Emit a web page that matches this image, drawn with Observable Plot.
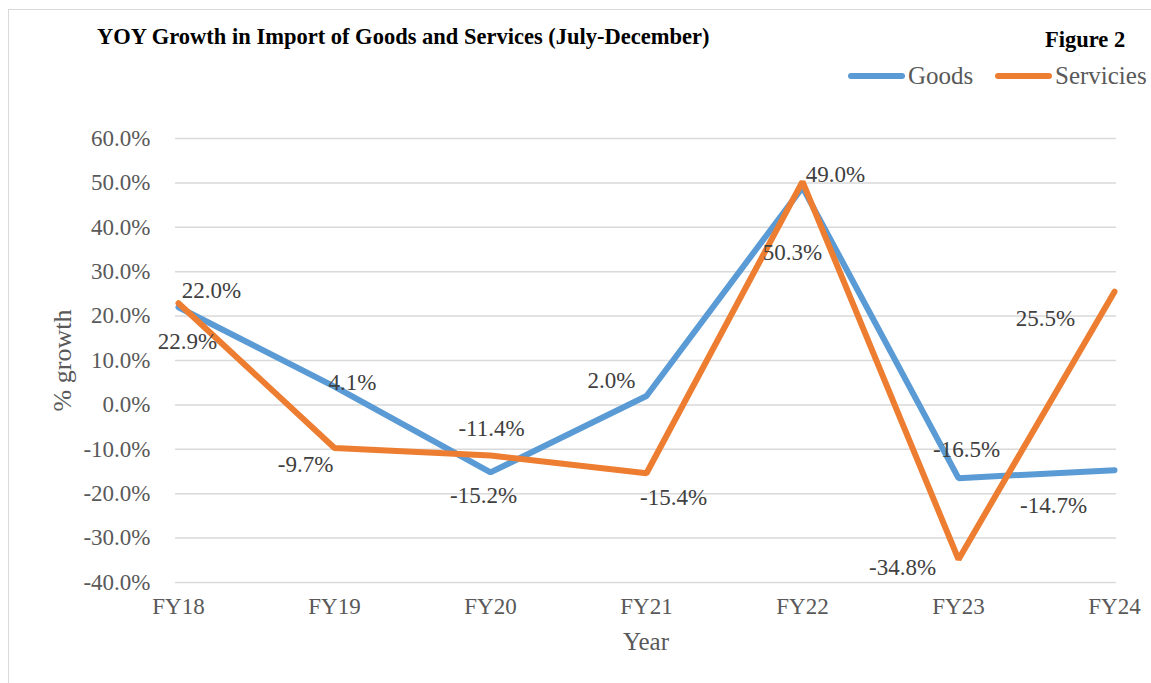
<!DOCTYPE html>
<html>
<head>
<meta charset="utf-8">
<script src="https://cdn.jsdelivr.net/npm/d3@7"></script>
<script src="https://cdn.jsdelivr.net/npm/@observablehq/plot@0.6"></script>
<style>
  html, body { margin: 0; padding: 0; background: #fff; }
  #wrap { position: relative; width: 1151px; height: 683px; overflow: hidden; font-family: "Liberation Serif", "DejaVu Serif", serif; }
  #frame { position: absolute; left: 8px; top: 9px; width: 1200px; height: 700px; border: 1.5px solid #d9d9d9; box-sizing: border-box; }
  .abs { position: absolute; white-space: nowrap; }
  #title { left: 97px; top: 24px; font-weight: bold; font-size: 22.5px; color: #000; }
  #fig { left: 1045px; top: 27px; font-weight: bold; font-size: 22.5px; color: #000; }
  .leg { top: 62px; font-size: 25px; color: #595959; display: flex; align-items: center; }
  .sw { display: inline-block; width: 57px; height: 6px; border-radius: 3px; margin-right: 3px; }
  #plot { position: absolute; left: 0; top: 0; }
  #plot svg text { font-family: "Liberation Serif", "DejaVu Serif", serif; }
</style>
</head>
<body>
<div id="wrap">
  <div id="frame"></div>
  <div id="plot"></div>
  <div class="abs" id="title">YOY Growth in Import of Goods and Services (July-December)</div>
  <div class="abs" id="fig">Figure 2</div>
  <div class="abs leg" style="left:848px"><span class="sw" style="background:#5b9bd5"></span>Goods</div>
  <div class="abs leg" style="left:995px"><span class="sw" style="background:#ed7d31"></span>Servicies</div>
</div>
<script>
const years = ["FY18", "FY19", "FY20", "FY21", "FY22", "FY23", "FY24"];
const goods = [22.0, 4.1, -15.2, 2.0, 49.0, -16.5, -14.7];
const services = [22.9, -9.7, -11.4, -15.4, 50.3, -34.8, 25.5];
const yTicks = [-40, -30, -20, -10, 0, 10, 20, 30, 40, 50, 60];

// label placement offsets (dx, dy) in pixels
const goodsLabelDx = [33, 18, -7, -35, 33, 8, -61];
const goodsLabelDy = [-17, -4, 23, -15, -13, -29, 35];
const servicesLabelDx = [9, -29, 1, 27, -10, -56, -69];
const servicesLabelDy = [38, 17, -27, 24, 71, 8, 27];

const rows = [];
years.forEach((y, i) => {
  rows.push({year: y, series: "Goods", value: goods[i], dx: goodsLabelDx[i], dy: goodsLabelDy[i]});
});
years.forEach((y, i) => {
  rows.push({year: y, series: "Servicies", value: services[i], dx: servicesLabelDx[i], dy: servicesLabelDy[i]});
});
const colors = {Goods: "#5b9bd5", Servicies: "#ed7d31"};
const serif = "Liberation Serif";

const labelMarks = rows.map(r => Plot.text([r], {
  x: "year", y: "value", text: d => d.value.toFixed(1) + "%",
  dx: r.dx, dy: r.dy, fill: "#404040", fontSize: 23, fontFamily: serif
}));

const chart = Plot.plot({
  width: 1151,
  height: 683,
  marginLeft: 175,
  marginRight: 35,
  marginTop: 138,
  marginBottom: 101,
  style: {fontFamily: "'Liberation Serif', 'DejaVu Serif', serif", background: "transparent", overflow: "visible"},
  x: {type: "point", domain: years, padding: 0, label: null},
  y: {domain: [-40, 60], label: null},
  marks: [
    Plot.ruleY(yTicks, {stroke: "#d9d9d9", strokeWidth: 1.5}),
    Plot.axisY({ticks: yTicks, tickFormat: d => d.toFixed(1) + "%", tickSize: 0, tickPadding: 25, fontSize: 23, fontFamily: serif, color: "#595959", label: null}),
    Plot.axisX({tickSize: 0, tickPadding: 15, fontSize: 23, fontFamily: serif, color: "#595959", label: null}),
    Plot.line(rows.filter(d => d.series === "Goods"), {x: "year", y: "value", stroke: colors.Goods, strokeWidth: 6, strokeLinejoin: "miter"}),
    Plot.line(rows.filter(d => d.series === "Servicies"), {x: "year", y: "value", stroke: colors.Servicies, strokeWidth: 6, strokeLinejoin: "miter"}),
    ...labelMarks,
    Plot.text(["Year"], {frameAnchor: "bottom", dy: 67, fontSize: 25, fontFamily: serif, fill: "#595959"}),
    Plot.text(["% growth"], {frameAnchor: "left", textAnchor: "middle", dx: -113, dy: 0, rotate: -90, fontSize: 26, fontFamily: serif, fill: "#595959"})
  ]
});
document.getElementById("plot").appendChild(chart);
</script>
</body>
</html>
